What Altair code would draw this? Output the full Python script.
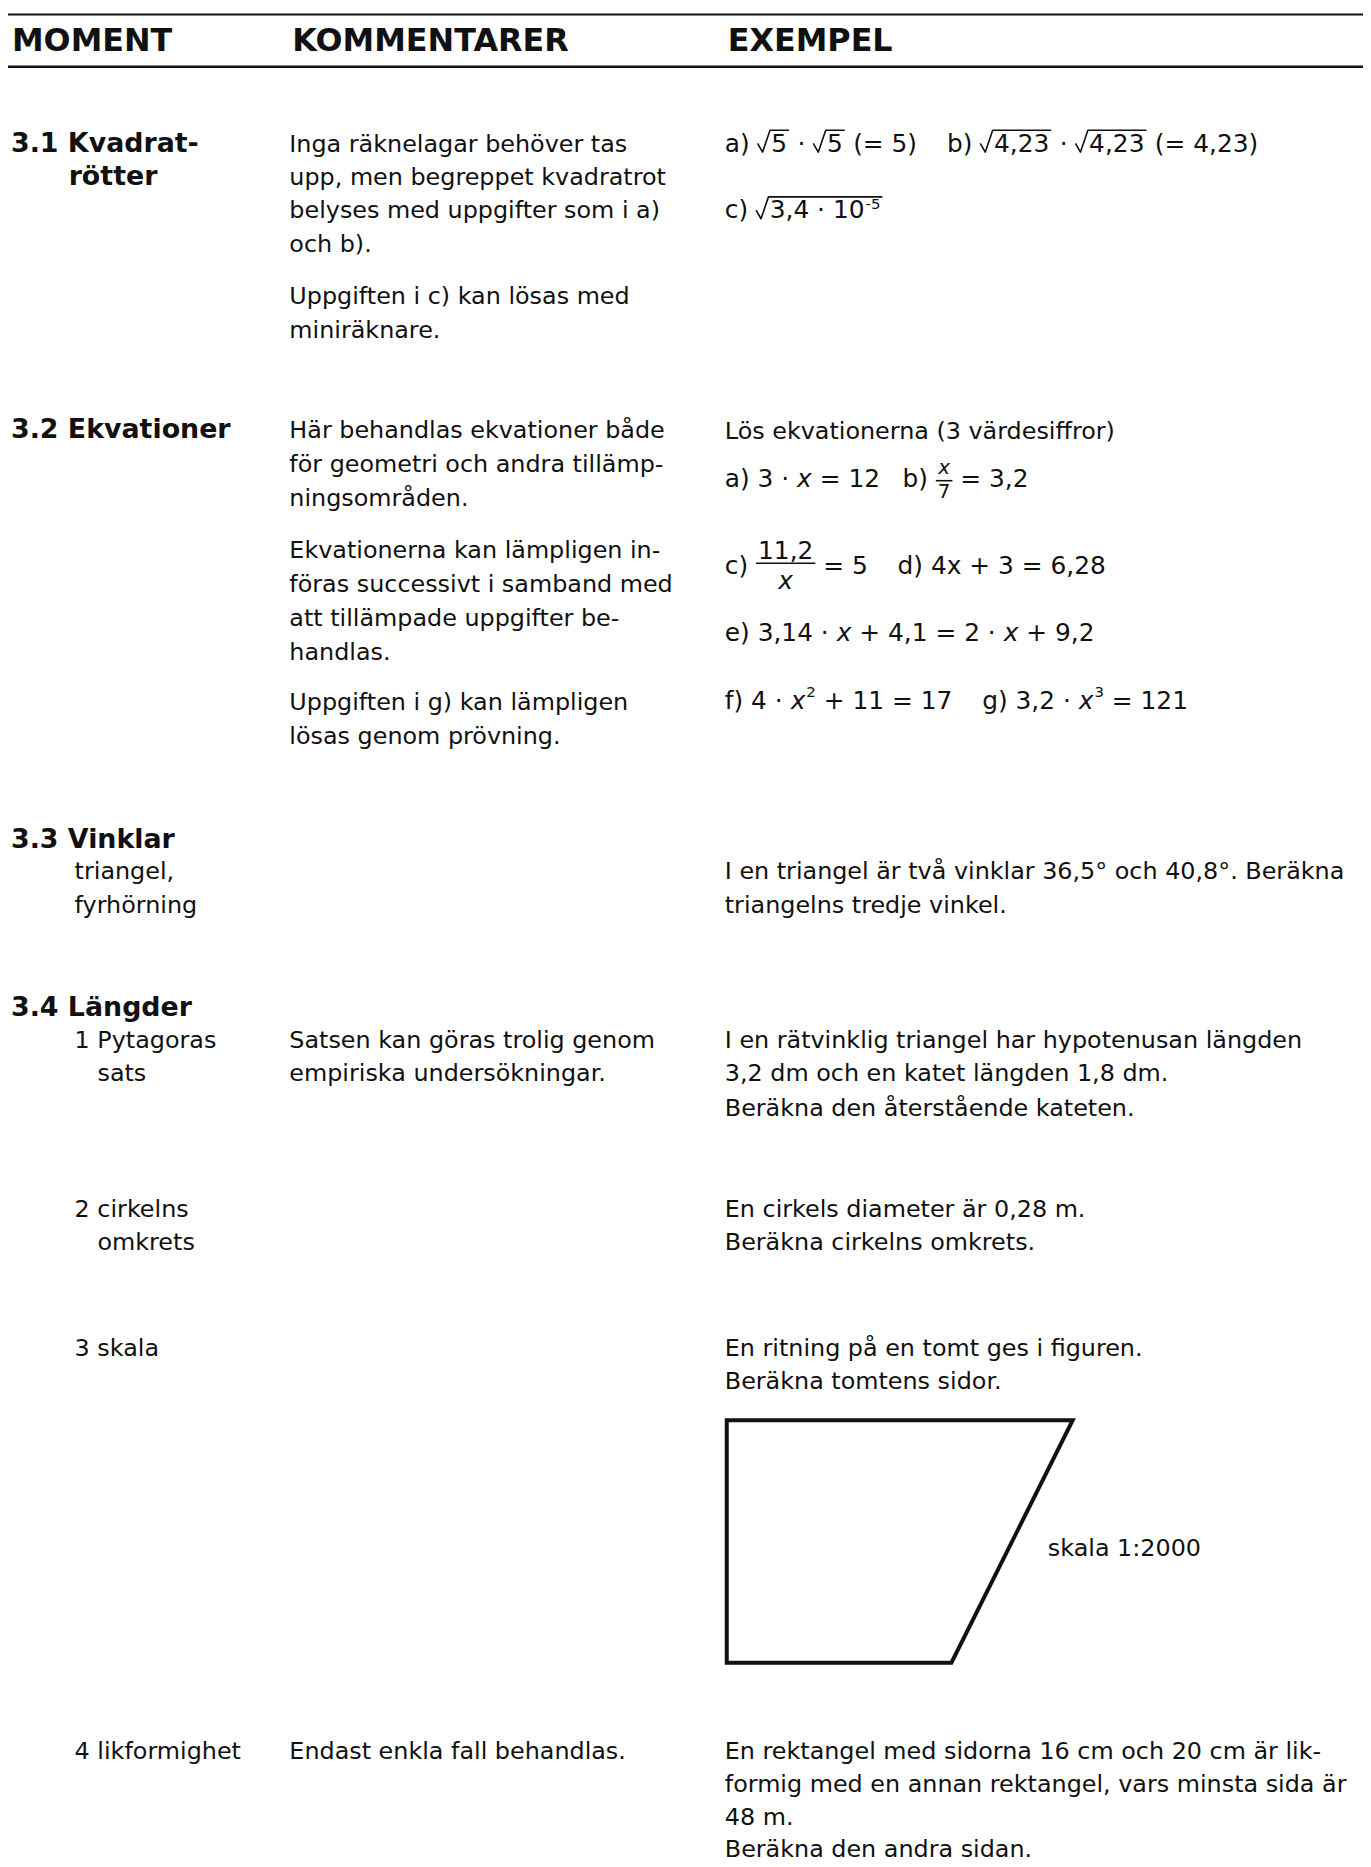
import altair as alt
import pandas as pd

# ---------------- page geometry ----------------
PAGE_W, PAGE_H, MARGIN = 1371, 1867, 8
FONT = "DejaVu Sans"
INK = "#111111"
BODY = 24          # body text size
MATH = 25          # formula text size
HEAD = 32          # column header size
SECT = 27          # section heading size

# ---------------- header ----------------
header_labels = ["MOMENT", "KOMMENTARER", "EXEMPEL"]
header_x = [12, 294, 732]
header_base = [46, 46, 46]

rule_y = [9, 61.5]
rule_x1 = [8, 8]
rule_x2 = [1371, 1371]
rule_w = [2, 2.5]

# ---------------- MOMENT column ----------------
section_titles = ["3.1 Kvadrat-", "rötter", "3.2 Ekvationer", "3.3 Vinklar", "3.4 Längder"]
section_x = [11, 69, 11, 11, 11]
section_base = [147, 181, 435, 847, 1016]

moment_items = ["triangel,", "fyrhörning", "1 Pytagoras", "sats", "2 cirkelns",
                "omkrets", "3 skala", "4 likformighet"]
moment_x = [75, 75, 75, 98, 75, 98, 75, 75]
moment_base = [879, 913, 1049, 1082, 1219, 1252, 1358, 1764]

# ---------------- KOMMENTARER column ----------------
komm_lines = [
    "Inga räknelagar behöver tas",
    "upp, men begreppet kvadratrot",
    "belyses med uppgifter som i a)",
    "och b).",
    "Uppgiften i c) kan lösas med",
    "miniräknare.",
    "Här behandlas ekvationer både",
    "för geometri och andra tillämp-",
    "ningsområden.",
    "Ekvationerna kan lämpligen in-",
    "föras successivt i samband med",
    "att tillämpade uppgifter be-",
    "handlas.",
    "Uppgiften i g) kan lämpligen",
    "lösas genom prövning.",
    "Satsen kan göras trolig genom",
    "empiriska undersökningar.",
    "Endast enkla fall behandlas.",
]
komm_base = [147, 181, 214, 248, 300, 334, 435, 469, 503, 556, 590, 624, 658,
             709, 743, 1049, 1082, 1764]
komm_x = 291

# ---------------- EXEMPEL column (plain text) ----------------
ex_lines = [
    "Lös ekvationerna (3 värdesiffror)",
    "I en triangel är två vinklar 36,5° och 40,8°. Beräkna",
    "triangelns tredje vinkel.",
    "I en rätvinklig triangel har hypotenusan längden",
    "3,2 dm och en katet längden 1,8 dm.",
    "Beräkna den återstående kateten.",
    "En cirkels diameter är 0,28 m.",
    "Beräkna cirkelns omkrets.",
    "En ritning på en tomt ges i figuren.",
    "Beräkna tomtens sidor.",
    "En rektangel med sidorna 16 cm och 20 cm är lik-",
    "formig med en annan rektangel, vars minsta sida är",
    "48 m.",
    "Beräkna den andra sidan.",
    "skala 1:2000",
]
ex_base = [436, 879, 913, 1049, 1082, 1117, 1219, 1252, 1358, 1392,
           1764, 1797, 1830, 1862, 1560]
ex_x = [729] * 14 + [1054]

# ---------------- EXEMPEL column (formulas) ----------------
# token kinds: n = upright text, i = italic text, gap = extra space (em),
# rad / end = square root start / end, sup = superscript (text, size, raise),
# frac = fraction (num, num style, den, den style, size, num dy, den dy, bar dy)
math_base = [147, 214, 484, 572, 639, 708]
math_tokens = [
    [("n", "a) "), ("rad",), ("n", "5"), ("end",), ("n", " · "), ("rad",), ("n", "5"), ("end",),
     ("n", " (= 5)"), ("gap", 1.2), ("n", "b) "), ("rad",), ("n", "4,23"), ("end",), ("n", " · "),
     ("rad",), ("n", "4,23"), ("end",), ("n", " (= 4,23)")],
    [("n", "c) "), ("rad",), ("n", "3,4 · 10"), ("sup", "-5", 15, 9), ("end",)],
    [("n", "a) 3 · "), ("i", "x"), ("n", " = 12"), ("gap", 0.9), ("n", "b) "),
     ("frac", "x", "i", "7", "n", 20, -13, 11, -6), ("n", " = 3,2")],
    [("n", "c) "), ("frac", "11,2", "n", "x", "i", 25, -15, 15, -11), ("n", " = 5"), ("gap", 1.2),
     ("n", "d) 4x + 3 = 6,28")],
    [("n", "e) 3,14 · "), ("i", "x"), ("n", " + 4,1 = 2 · "), ("i", "x"), ("n", " + 9,2")],
    [("n", "f) 4 · "), ("i", "x"), ("sup", "2", 15, 12), ("n", " + 11 = 17"), ("gap", 1.2),
     ("n", "g) 3,2 · "), ("i", "x"), ("sup", "3", 15, 12), ("n", " = 121")],
]
math_x = 729

# ---------------- figure: plot of land ----------------
plot_x = [731, 1079, 957, 731, 731, 1079]
plot_y = [1423, 1423, 1667, 1667, 1423, 1423]

# ---------------- layout helpers (DejaVu Sans advance widths, em) ----------------
EM = {" ": .318, ",": .318, ".": .318, "·": .318, "(": .390, ")": .390, "=": .838,
      "+": .838, "-": .361, "a": .613, "b": .635, "c": .550, "d": .635, "e": .615,
      "f": .352, "g": .635, "x": .592}
for ch in "0123456789":
    EM[ch] = .636


def tw(s, fs):
    return sum(EM.get(c, .6) for c in s) * fs


text_rows = []   # x, y, text, fs, style
path_rows = []   # grp, ord, x, y
n_paths = [0]


def add_path(pts):
    g = n_paths[0]
    n_paths[0] += 1
    for k, (px, py) in enumerate(pts):
        path_rows.append(dict(grp=g, ord=k, x=px, y=py))


def put(x, y, s, fs, style):
    lead = len(s) - len(s.lstrip(" "))
    x += tw(s[:lead], fs)
    body = s.strip(" ")
    if body:
        text_rows.append(dict(x=x, y=y, text=body, fs=fs, style=style))
    return x + tw(s[lead:], fs)


for base, toks in zip(math_base, math_tokens):
    x = math_x
    stack = []
    for tok in toks:
        kind = tok[0]
        if kind in ("n", "i"):
            x = put(x, base, tok[1], MATH, kind)
        elif kind == "gap":
            x += tok[1] * MATH
        elif kind == "sup":
            _, s, fs, raise_ = tok
            x = put(x + 1, base - raise_, s, fs, "n")
        elif kind == "rad":
            stack.append(x)
            x += 0.55 * MATH
        elif kind == "end":
            x0 = stack.pop()
            top = base - 0.86 * MATH
            add_path([(x0, base - 0.33 * MATH), (x0 + 0.2 * MATH, base + 0.02 * MATH),
                      (x0 + 0.5 * MATH, top), (x + 0.08 * MATH, top)])
            x += 0.1 * MATH
        elif kind == "frac":
            _, num, ns, den, ds, fs, ndy, ddy, bdy = tok
            wn, wd = tw(num, fs), tw(den, fs)
            w = max(wn, wd) + 4
            put(x + (w - wn) / 2, base + ndy, num, fs, ns)
            put(x + (w - wd) / 2, base + ddy, den, fs, ds)
            add_path([(x, base + bdy), (x + w, base + bdy)])
            x += w

# plain text rows
for s, xx, yy in zip(header_labels, header_x, header_base):
    text_rows.append(dict(x=xx, y=yy, text=s, fs=HEAD, style="b"))
for s, xx, yy in zip(section_titles, section_x, section_base):
    text_rows.append(dict(x=xx, y=yy, text=s, fs=SECT, style="b"))
for s, xx, yy in zip(moment_items, moment_x, moment_base):
    text_rows.append(dict(x=xx, y=yy, text=s, fs=BODY, style="n"))
for s, yy in zip(komm_lines, komm_base):
    text_rows.append(dict(x=komm_x, y=yy, text=s, fs=BODY, style="n"))
for s, xx, yy in zip(ex_lines, ex_x, ex_base):
    text_rows.append(dict(x=xx, y=yy, text=s, fs=BODY, style="n"))

texts = pd.DataFrame(text_rows)
paths = pd.DataFrame(path_rows)
plot_df = pd.DataFrame(dict(x=plot_x, y=plot_y, ord=list(range(len(plot_x)))))
rules = pd.DataFrame(dict(x=rule_x1, x2=rule_x2, y=rule_y, w=rule_w))

# ---------------- scales: data value == page pixel ----------------
xs = alt.Scale(domain=[MARGIN, PAGE_W], nice=False, zero=False)
ys = alt.Scale(domain=[MARGIN, PAGE_H], nice=False, zero=False, reverse=True)
X = alt.X("x:Q", scale=xs, axis=None)
Y = alt.Y("y:Q", scale=ys, axis=None)


def text_layer(style, weight, fstyle):
    return alt.Chart(texts[texts["style"] == style]).mark_text(
        align="left", baseline="alphabetic", font=FONT, fontWeight=weight,
        fontStyle=fstyle, color=INK
    ).encode(x=X, y=Y, text="text:N", size=alt.Size("fs:Q", scale=None))


rule_layer = alt.Chart(rules).mark_rule(color=INK).encode(
    x=X, x2="x2:Q", y=Y, size=alt.Size("w:Q", scale=None))

path_layer = alt.Chart(paths).mark_line(color=INK, strokeWidth=1.6, strokeJoin="round").encode(
    x=X, y=Y, detail="grp:N", order="ord:Q")

plot_layer = alt.Chart(plot_df).mark_line(color=INK, strokeWidth=4, strokeJoin="miter").encode(
    x=X, y=Y, order="ord:Q")

chart = alt.layer(
    rule_layer, path_layer, plot_layer,
    text_layer("n", "normal", "normal"),
    text_layer("i", "normal", "italic"),
    text_layer("b", "bold", "normal"),
).properties(
    width=PAGE_W - MARGIN, height=PAGE_H - MARGIN, padding=0, autosize="none",
    background="white"
).configure_view(strokeWidth=0)

chart.save("out.html", embed_options={"renderer": "svg", "actions": False})
